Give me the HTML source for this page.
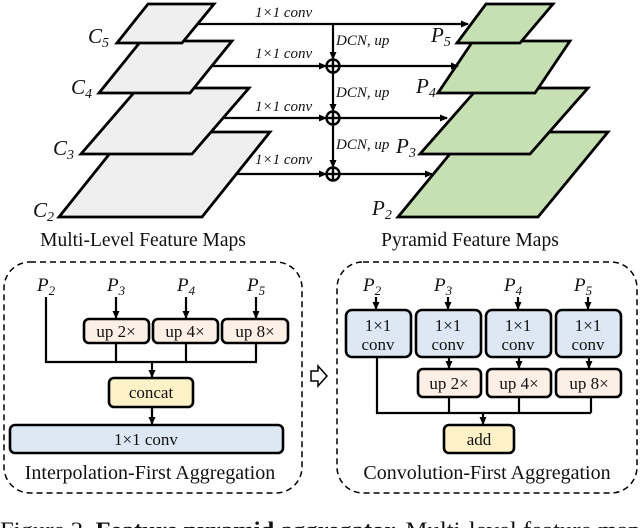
<!DOCTYPE html>
<html><head><meta charset="utf-8"><style>
html,body{margin:0;padding:0;background:#fff;}
svg{display:block;}
text{font-family:"Liberation Serif",serif;fill:#111;}
.it{font-style:italic;}
</style></head><body>
<svg width="640" height="528" viewBox="0 0 640 528" xmlns="http://www.w3.org/2000/svg">
<defs>
<marker id="ah" markerWidth="8" markerHeight="8" refX="7" refY="4" orient="auto" markerUnits="userSpaceOnUse">
<path d="M0,0.5 L8,4 L0,7.5 Z" fill="#000"/></marker>
</defs>
<g stroke="#000" stroke-width="2.8" stroke-linejoin="miter">
<polygon points="127,132 270,132 202,217 59,217" fill="#efefef"/>
<polygon points="138,88 249,88 192,154 81,154" fill="#efefef"/>
<polygon points="141,41 232,41 190,93 99,93" fill="#efefef"/>
<polygon points="148,4 214,4 182,43 117,43" fill="#efefef"/>
<polygon points="468,132 608,132 538,217 398,217" fill="#c6e0b4"/>
<polygon points="478,88 588,88 530,154 420,154" fill="#c6e0b4"/>
<polygon points="473,41 570,41 535,93 438,93" fill="#c6e0b4"/>
<polygon points="486,4 553,4 520,43 457,43" fill="#c6e0b4"/>
</g>
<g stroke="#000" stroke-width="2.2" fill="none">
<line x1="197" y1="24" x2="468" y2="24" marker-end="url(#ah)"/>
<line x1="333" y1="24" x2="333" y2="59" marker-end="url(#ah)"/>
<line x1="333" y1="72" x2="333" y2="111" marker-end="url(#ah)"/>
<line x1="333" y1="125" x2="333" y2="167" marker-end="url(#ah)"/>
<line x1="212" y1="66" x2="326" y2="66" marker-end="url(#ah)"/>
<line x1="339" y1="66" x2="458" y2="66" marker-end="url(#ah)"/>
<line x1="222" y1="118" x2="326" y2="118" marker-end="url(#ah)"/>
<line x1="339" y1="118" x2="447" y2="118" marker-end="url(#ah)"/>
<line x1="235" y1="174" x2="326" y2="174" marker-end="url(#ah)"/>
<line x1="339" y1="174" x2="432" y2="174" marker-end="url(#ah)"/>
<g stroke-width="2.4">
<circle cx="333" cy="66" r="6.5" fill="#fff"/><line x1="326.5" y1="66" x2="339.5" y2="66"/><line x1="333" y1="59.5" x2="333" y2="72.5"/>
<circle cx="333" cy="118" r="6.5" fill="#fff"/><line x1="326.5" y1="118" x2="339.5" y2="118"/><line x1="333" y1="111.5" x2="333" y2="124.5"/>
<circle cx="333" cy="174" r="6.5" fill="#fff"/><line x1="326.5" y1="174" x2="339.5" y2="174"/><line x1="333" y1="167.5" x2="333" y2="180.5"/>
</g>
</g>
<g font-size="15">
<text x="255" y="17" class="it">1×1 conv</text>
<text x="255" y="58" class="it">1×1 conv</text>
<text x="255" y="111" class="it">1×1 conv</text>
<text x="255" y="164" class="it">1×1 conv</text>
<text x="336" y="45" class="it">DCN, up</text>
<text x="336" y="97" class="it">DCN, up</text>
<text x="336" y="149" class="it">DCN, up</text>
</g>
<g font-size="21">
<text x="88" y="43" class="it">C<tspan font-size="14" dy="4">5</tspan></text>
<text x="71" y="94" class="it">C<tspan font-size="14" dy="4">4</tspan></text>
<text x="53" y="155" class="it">C<tspan font-size="14" dy="4">3</tspan></text>
<text x="33" y="217" class="it">C<tspan font-size="14" dy="4">2</tspan></text>
<text x="431" y="42" class="it">P<tspan font-size="14" dy="4">5</tspan></text>
<text x="416" y="93" class="it">P<tspan font-size="14" dy="4">4</tspan></text>
<text x="396" y="153" class="it">P<tspan font-size="14" dy="4">3</tspan></text>
<text x="372" y="215" class="it">P<tspan font-size="14" dy="4">2</tspan></text>
</g>
<text x="143" y="246" font-size="19.5" text-anchor="middle">Multi-Level Feature Maps</text>
<text x="470" y="246" font-size="19.5" text-anchor="middle">Pyramid Feature Maps</text>

<rect x="4" y="262" width="298" height="231" rx="26" fill="none" stroke="#000" stroke-width="1.5" stroke-dasharray="6,4"/>
<rect x="337" y="262" width="300" height="231" rx="26" fill="none" stroke="#000" stroke-width="1.5" stroke-dasharray="6,4"/>
<g font-size="19">
<text x="37" y="291" class="it">P<tspan font-size="13" dy="4">2</tspan></text>
<text x="107" y="291" class="it">P<tspan font-size="13" dy="4">3</tspan></text>
<text x="177" y="291" class="it">P<tspan font-size="13" dy="4">4</tspan></text>
<text x="247" y="291" class="it">P<tspan font-size="13" dy="4">5</tspan></text>
<text x="363" y="291" class="it">P<tspan font-size="13" dy="4">2</tspan></text>
<text x="434" y="291" class="it">P<tspan font-size="13" dy="4">3</tspan></text>
<text x="504" y="291" class="it">P<tspan font-size="13" dy="4">4</tspan></text>
<text x="574" y="291" class="it">P<tspan font-size="13" dy="4">5</tspan></text>
</g>
<g stroke="#000" stroke-width="2.2" fill="none">
<polyline points="46,297 46,362 257,362"/>
<line x1="116" y1="297" x2="116" y2="318" marker-end="url(#ah)"/>
<line x1="186" y1="297" x2="186" y2="318" marker-end="url(#ah)"/>
<line x1="256" y1="297" x2="256" y2="318" marker-end="url(#ah)"/>
<line x1="116" y1="343" x2="116" y2="362"/>
<line x1="186" y1="343" x2="186" y2="362"/>
<line x1="256" y1="343" x2="256" y2="362"/>
<line x1="152" y1="362" x2="152" y2="377" marker-end="url(#ah)"/>
<line x1="152" y1="407" x2="152" y2="424" marker-end="url(#ah)"/>
<line x1="376" y1="297" x2="376" y2="309" marker-end="url(#ah)"/>
<line x1="448" y1="297" x2="448" y2="309" marker-end="url(#ah)"/>
<line x1="518" y1="297" x2="518" y2="309" marker-end="url(#ah)"/>
<line x1="588" y1="297" x2="588" y2="309" marker-end="url(#ah)"/>
<line x1="449" y1="357" x2="449" y2="368" marker-end="url(#ah)"/>
<line x1="519" y1="357" x2="519" y2="368" marker-end="url(#ah)"/>
<line x1="589" y1="357" x2="589" y2="368" marker-end="url(#ah)"/>
<polyline points="377,357 377,413 591,413"/>
<line x1="449" y1="397" x2="449" y2="413"/>
<line x1="519" y1="397" x2="519" y2="413"/>
<line x1="591" y1="397" x2="591" y2="413"/>
<line x1="483" y1="413" x2="483" y2="424" marker-end="url(#ah)"/>
</g>
<g stroke="#000" stroke-width="2.6">
<rect x="84" y="319" width="65" height="24" rx="5" fill="#fcefe6"/>
<rect x="153" y="319" width="65" height="24" rx="5" fill="#fcefe6"/>
<rect x="222" y="319" width="66" height="24" rx="5" fill="#fcefe6"/>
<rect x="109" y="378" width="84" height="29" rx="5" fill="#fdf1c8"/>
<rect x="10" y="425" width="273" height="28" rx="5" fill="#dde8f4"/>
<rect x="346" y="310" width="65" height="47" rx="6" fill="#dde8f4"/>
<rect x="416" y="310" width="65" height="47" rx="6" fill="#dde8f4"/>
<rect x="486" y="310" width="65" height="47" rx="6" fill="#dde8f4"/>
<rect x="556" y="310" width="65" height="47" rx="6" fill="#dde8f4"/>
<rect x="418" y="369" width="63" height="28" rx="5" fill="#fcefe6"/>
<rect x="487" y="369" width="64" height="28" rx="5" fill="#fcefe6"/>
<rect x="556" y="369" width="65" height="28" rx="5" fill="#fcefe6"/>
<rect x="444" y="425" width="70" height="28" rx="5" fill="#fdf1c8"/>
</g>
<g font-size="17" text-anchor="middle">
<text x="116" y="337">up 2×</text><text x="185" y="337">up 4×</text><text x="255" y="337">up 8×</text>
<text x="151" y="398">concat</text>
<text x="146" y="445">1×1 conv</text>
<text x="378" y="331">1×1</text><text x="378" y="350">conv</text>
<text x="448" y="331">1×1</text><text x="448" y="350">conv</text>
<text x="518" y="331">1×1</text><text x="518" y="350">conv</text>
<text x="588" y="331">1×1</text><text x="588" y="350">conv</text>
<text x="449" y="389">up 2×</text><text x="519" y="389">up 4×</text><text x="589" y="389">up 8×</text>
<text x="479" y="445">add</text>
</g>
<g font-size="20" text-anchor="middle">
<text x="150" y="479">Interpolation-First Aggregation</text>
<text x="487" y="479">Convolution-First Aggregation</text>
</g>
<path d="M311,371 L318,371 L318,366 L327,376 L318,386 L318,381 L311,381 Z" fill="#fff" stroke="#000" stroke-width="1.5"/>
<text x="0" y="537" font-size="22" textLength="650" lengthAdjust="spacingAndGlyphs">Figure 2. <tspan font-weight="bold">Feature pyramid aggregator.</tspan> Multi-level feature maps</text>
</svg>
</body></html>
